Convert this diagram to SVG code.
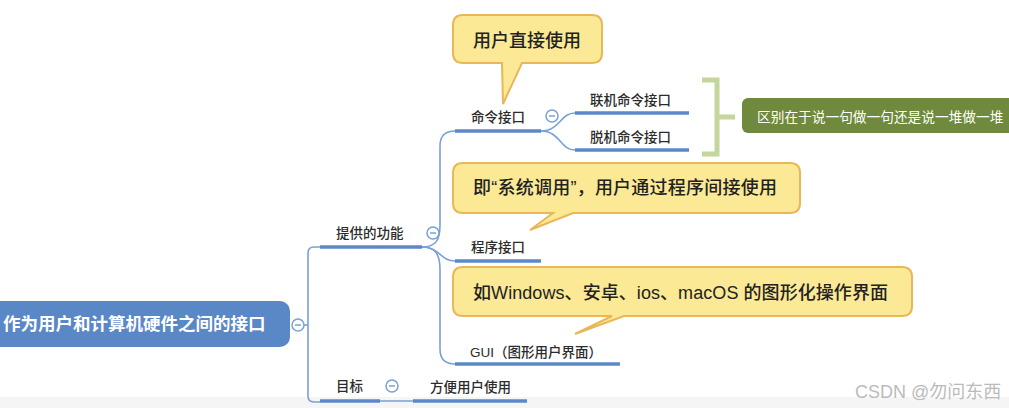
<svg xmlns="http://www.w3.org/2000/svg" width="1009" height="408" viewBox="0 0 1009 408">
<style>
.t{font-family:'Liberation Sans','Noto Sans CJK SC',sans-serif;fill:#2b2b2b;font-size:13.5px;font-weight:500}
.c{font-family:'Liberation Sans','Noto Sans CJK SC',sans-serif;fill:#222;font-size:18px;font-weight:500}
.ul{stroke:#5a88c8;stroke-width:3.5;fill:none}
.ln{stroke:#7aa0d4;stroke-width:1.6;fill:none}
.call{fill:#fbe995;stroke:#e9b758;stroke-width:2}
.tog circle{fill:#fff;stroke:#7aa0d4;stroke-width:1.5}
.tog line{stroke:#7aa0d4;stroke-width:1.5}
</style>
<rect width="1009" height="408" fill="#fff"/>
<rect x="0" y="397" width="1009" height="11" fill="#f5f5f5"/>
<g id="connectors">
<path class="ln" d="M304,325 H308"/>
<path class="ln" d="M320,247 H314 Q308,247 308,253 V396 Q308,402 314,402 H320"/>
<path class="ln" d="M422,247 C436,247 440,240 440,225 V146 Q440,131 455,131"/>
<path class="ln" d="M422,247 C440,247 440,261 455,261"/>
<path class="ln" d="M422,247 C436,247 440,255 440,270 V349 Q440,364 455,364"/>
<path class="ln" d="M541,131 C560,131 560,113 575,113"/>
<path class="ln" d="M541,131 C560,131 560,150 575,150"/>
<path class="ln" d="M380,401 H413"/>
<path d="M702,80 H717 V154 H702 M717,117 H735" fill="none" stroke="#c5d69c" stroke-width="5"/>
</g>
<g id="root">
<rect x="-12" y="301" width="302" height="46" rx="10" fill="#5a87c6"/>
<text x="3" y="330" font-family="'Liberation Sans','Noto Sans CJK SC',sans-serif" font-size="17.5" font-weight="bold" fill="#fff">作为用户和计算机硬件之间的接口</text>
<g class="tog"><circle cx="298" cy="325" r="6"/><line x1="295" y1="325" x2="301" y2="325"/></g>
</g>
<g id="functions">
<path class="ul" d="M320,247 H422"/>
<text class="t" x="336" y="238">提供的功能</text>
<g class="tog"><circle cx="433" cy="233" r="6"/><line x1="430" y1="233" x2="436" y2="233"/></g>
</g>
<g id="cmd">
<path class="ul" d="M455,131 H541"/>
<text class="t" x="471" y="122">命令接口</text>
<g class="tog"><circle cx="552" cy="116" r="6"/><line x1="549" y1="116" x2="555" y2="116"/></g>
</g>
<g id="online">
<path class="ul" d="M575,113 H689"/>
<text class="t" x="590" y="105">联机命令接口</text>
</g>
<g id="offline">
<path class="ul" d="M575,150 H689"/>
<text class="t" x="590" y="142">脱机命令接口</text>
</g>
<g id="prog">
<path class="ul" d="M455,261 H541"/>
<text class="t" x="471" y="252">程序接口</text>
</g>
<g id="gui">
<path class="ul" d="M455,364 H620"/>
<text class="t" x="470" y="357">GUI（图形用户界面）</text>
</g>
<g id="goal">
<path class="ul" d="M320,401 H380"/>
<text class="t" x="336" y="391">目标</text>
<g class="tog"><circle cx="392" cy="386" r="6"/><line x1="389" y1="386" x2="395" y2="386"/></g>
</g>
<g id="easy">
<path class="ul" d="M413,401 H527"/>
<text class="t" x="430" y="392">方便用户使用</text>
</g>
<g id="note-diff">
<rect x="742" y="98" width="290" height="35" rx="6" fill="#6f8a3c"/>
<text x="757" y="122" font-family="'Liberation Sans','Noto Sans CJK SC',sans-serif" font-size="13.7" fill="#fff">区别在于说一句做一句还是说一堆做一堆</text>
</g>
<g id="callout-cmd">
<path class="call" d="M463,15 H592 Q602,15 602,25 V53 Q602,63 592,63 H522 L503,104 L502,63 H463 Q453,63 453,53 V25 Q453,15 463,15 Z"/>
<text class="c" x="473" y="47" font-size="18.5">用户直接使用</text>
</g>
<g id="callout-prog">
<path class="call" d="M463,163 H790 Q800,163 800,173 V203 Q800,213 790,213 H573 L530,230 L553,213 H463 Q453,213 453,203 V173 Q453,163 463,163 Z"/>
<text class="c" x="473" y="194" textLength="304" lengthAdjust="spacing">即“系统调用”，用户通过程序间接使用</text>
</g>
<g id="callout-gui">
<path class="call" d="M463,267 H902 Q912,267 912,277 V306 Q912,316 902,316 H624 L575,334 L612,316 H463 Q453,316 453,306 V277 Q453,267 463,267 Z"/>
<text class="c" x="473" y="299" textLength="415" lengthAdjust="spacing">如Windows、安卓、ios、macOS 的图形化操作界面</text>
</g>
<text x="855" y="398" font-family="'Liberation Sans','Noto Sans CJK SC',sans-serif" font-size="18" fill="#bbb">CSDN @勿问东西</text>
</svg>
